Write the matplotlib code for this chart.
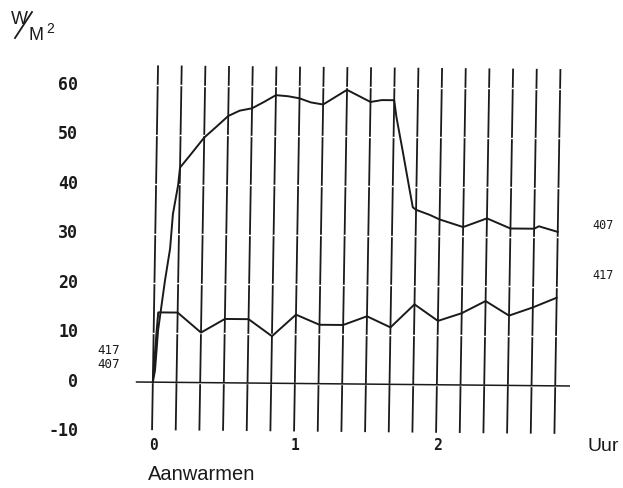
"""Aanwarmen: warmteflux van meetpunten 407 en 417 (plotter-uitdraai)."""

import matplotlib

matplotlib.use("Agg")
import matplotlib.pyplot as plt
from matplotlib.lines import Line2D
from matplotlib.transforms import Affine2D

# tijd in uren, flux in W/m2
t_407 = [0, 0.014, 0.031, 0.074, 0.106, 0.122, 0.155, 1 / 6, 0.236, 1 / 3, 0.41, 0.5,
         0.58, 2 / 3, 0.75, 5 / 6, 0.92, 1.0, 1.08, 7 / 6, 4 / 3, 1.5, 1.58, 5 / 3,
         1.685, 1.73, 1.785, 1.81, 11 / 6, 1.93, 2.0, 13 / 6, 7 / 3, 2.5, 8 / 3,
         2.7, 17 / 6]
flux_407 = [0, 2.4, 10.5, 20.6, 27, 34, 39.8, 43.4, 45.9, 49.5, 51.5, 53.9,
            55.0, 55.5, 56.8, 58.2, 58.0, 57.6, 56.8, 56.4, 59.4, 57.0, 57.4, 57.4,
            53.9, 47.5, 39.4, 35.8, 35.3, 34.3, 33.4, 31.9, 33.7, 31.7, 31.7,
            32.2, 31.1]

t_417 = [0, 0.01, 0.02, 0.03, 1 / 6, 1 / 3, 0.5, 2 / 3, 5 / 6, 1.0, 7 / 6, 4 / 3,
         1.5, 5 / 3, 11 / 6, 2.0, 13 / 6, 7 / 3, 2.5, 8 / 3, 17 / 6]
flux_417 = [0, 5, 10, 14.1, 14.1, 10.1, 12.9, 12.9, 9.5, 13.9, 11.9, 11.9,
            13.7, 11.5, 16.2, 12.9, 14.5, 17.0, 14.1, 15.8, 17.8]

grid_t = [k / 6 for k in range(18)]  # elke 10 minuten
y_ticks = [60, 50, 40, 30, 20, 10, 0, -10]
x_ticks = [0, 1, 2]
x_labels = ["0", "1", "2"]

INK = "#1a1a1a"
PLOT_FONT = "DejaVu Sans Mono"


def main():
    fig = plt.figure(figsize=(6.23, 4.88), dpi=100)
    fig.patch.set_facecolor("white")
    ax = fig.add_axes([135 / 623, 1 - 435 / 488, 435 / 623, 375 / 488])
    ax.set_xlim(-0.12, 2.943)
    ax.set_ylim(-10.71, 65.05)
    ax.axis("off")

    # the scanned plot is slightly sheared: verticals lean right, baseline drops
    k, m = 6 / 365, 4 / 435
    x0, y0 = 135, 58
    shear = Affine2D([[1, k, -k * y0], [-m, 1, m * x0], [0, 0, 1]])
    tr = ax.transData + shear

    # vertical time lines with the small breaks at each 10 W/m2 level
    ax.vlines(grid_t, -9.7, 64.0, color=INK, lw=1.3, zorder=1, transform=tr)
    for lvl in y_ticks[:-1]:
        ax.plot(grid_t, [lvl] * len(grid_t), ls="none", marker="_", ms=3,
                mew=1.0, color="white", zorder=2, transform=tr)

    # zero line
    ax.hlines(0, -0.12, 2.943, color=INK, lw=1.1, zorder=2, transform=tr)

    ax.plot(t_407, flux_407, color=INK, lw=1.4, zorder=3, transform=tr)
    ax.plot(t_417, flux_417, color=INK, lw=1.4, zorder=3, transform=tr)

    for v in y_ticks:
        ax.text(-0.521, v, str(v), ha="right", va="center", fontsize=12,
                family=PLOT_FONT, fontweight="bold", color=INK, clip_on=False)
    for x, lab in zip(x_ticks, x_labels):
        ax.text(x + 0.01, -12.9, lab, ha="center", va="center", fontsize=10.5,
                family=PLOT_FONT, fontweight="bold", color=INK, clip_on=False)

    # curve labels
    ax.text(-0.303, 6.3, "417", ha="center", va="center", fontsize=9,
            family=PLOT_FONT, color=INK, clip_on=False)
    ax.text(-0.303, 3.6, "407", ha="center", va="center", fontsize=9,
            family=PLOT_FONT, color=INK, clip_on=False)
    ax.text(3.176, 31.7, "407", ha="center", va="center", fontsize=8.5,
            family=PLOT_FONT, color=INK, clip_on=False)
    ax.text(3.176, 21.6, "417", ha="center", va="center", fontsize=8.5,
            family=PLOT_FONT, color=INK, clip_on=False)

    ax.text(3.176, -13.1, "Uur", ha="center", va="center", fontsize=14,
            family="Liberation Sans", color=INK, clip_on=False)
    ax.text(-0.028, -18.6, "Aanwarmen", ha="left", va="center", fontsize=14.5,
            family="Liberation Sans", color=INK, clip_on=False)

    # unit W/M2
    fig.text(19 / 623, 1 - 19 / 488, "W", ha="center", va="center", fontsize=13,
             family="Liberation Sans", color=INK)
    fig.add_artist(Line2D([15 / 623, 32 / 623], [1 - 38 / 488, 1 - 12 / 488],
                          transform=fig.transFigure, color=INK, lw=1.3))
    fig.text(36 / 623, 1 - 35 / 488, "M", ha="center", va="center", fontsize=13,
             family="Liberation Sans", color=INK)
    fig.text(50 / 623, 1 - 29 / 488, "2", ha="center", va="center", fontsize=10,
             family="Liberation Sans", color=INK)

    fig.savefig("out.png", dpi=100)


if __name__ == "__main__":
    main()
